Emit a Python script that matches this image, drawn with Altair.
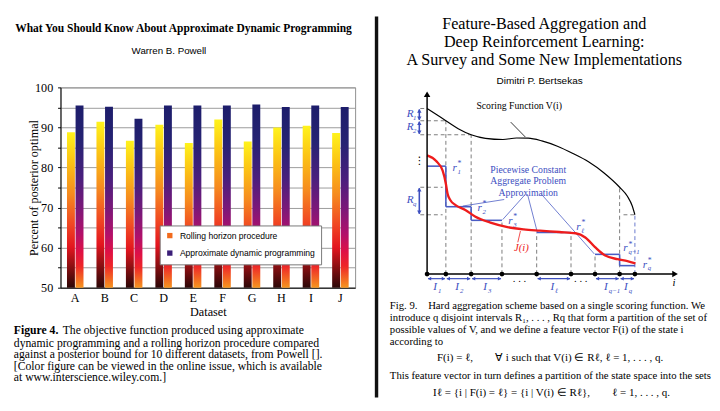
import altair as alt
import pandas as pd

# ================= Left panel: bar chart values =================
datasets = ["A", "B", "C", "D", "E", "F", "G", "H", "I", "J"]
rolling_horizon = [88.8, 91.4, 86.7, 90.7, 86.1, 92.0, 86.5, 90.0, 90.4, 88.6]
approx_dp = [95.5, 95.2, 92.2, 95.5, 95.5, 95.5, 95.7, 95.1, 95.5, 95.1]
series_names = ["Rolling horizon procedure", "Approximate dynamic programming"]
y_tick_values = [50, 55, 60, 65, 70, 75, 80, 85, 90, 95, 100]

left_title = "What You Should Know About Approximate Dynamic Programming"
left_author = "Warren B. Powell"
left_caption_head = "Figure 4."
left_caption_first = "The objective function produced using approximate"
left_caption_rest = [
    "dynamic programming and a rolling horizon procedure compared",
    "against a posterior bound for 10 different datasets, from Powell [].",
    "[Color figure can be viewed in the online issue, which is available",
    "at www.interscience.wiley.com.]",
]

# ================= Right panel: text =================
right_title = [
    "Feature-Based Aggregation and",
    "Deep Reinforcement Learning:",
    "A Survey and Some New Implementations",
]
right_author = "Dimitri P. Bertsekas"
right_caption = [
    "Fig. 9.\u2002\u2002Hard aggregation scheme based on a single scoring function. We",
    "introduce q disjoint intervals R\u2081, . . . , Rq that form a partition of the set of",
    "possible values of V, and we define a feature vector F(i) of the state i",
    "according to",
]
formula_1 = "F(i) = \u2113,\u2003\u2003\u2200 i such that V(i) \u2208 R\u2113,  \u2113 = 1, . . . , q."
right_caption_2 = "This feature vector in turn defines a partition of the state space into the sets"
formula_2 = "I\u2113 = {i | F(i) = \u2113} = {i | V(i) \u2208 R\u2113},\u2003\u2003\u2113 = 1, . . . , q."

# ================= Right panel: diagram values =================
v_i = [0, 10, 19.3, 32, 45.3, 60, 78, 92, 104, 118, 134, 150, 166, 182, 198, 206, 211, 213.7]
v_val = [170.3, 163.8, 157.7, 149.5, 143.3, 139.6, 138.4, 140.0, 139.8, 137.0, 131.5,
         124.0, 115.5, 104.0, 89.3, 80.0, 70.0, 61.0]
j_i = [0, 9.3, 16, 19.3, 21, 24, 29.3, 39.3, 49.3, 66, 82.7, 99.3, 116, 136, 152.7,
       162.7, 172.7, 182.7, 196, 206, 214.3]
j_val = [122, 116.3, 106.3, 93, 83, 76, 71, 66, 59.3, 52.7, 48.3, 46, 44.7, 43.3, 42,
         37.7, 27.7, 19.3, 15.3, 13.3, 11]

state_marks = [0, 19.3, 45.3, 77, 112.7, 148, 172.7, 198, 213.7]
interval_start = [0, 19.3, 45.3, 112.7, 172.7, 198]
interval_end = [19.3, 45.3, 77, 148, 198, 213.7]
interval_sub = ["1", "2", "3", "\u2113", "q\u22121", "q"]
r_level = [111, 69.3, 55.3, 42.7, 20.3, 8.7]
r_label_i = [28.3, 54, 85.7, 155.7, 204, 224]
r_label_v = [109, 68, 54.7, 48, 26.3, 9.7]
R_sub = ["1", "2", "q"]
R_top = [170.3, 157.7, 89.3]
R_bottom = [157.7, 143.3, 61]
R_label_v = [164.7, 151.3, 75.7]
R_axis_i = -8
interval_arrow_v = -4.7
I_label_v = -13.7

guide_x1 = [19.3, 45.3, 77, 112.7, 148, 172.7, 198, -7, -7, -7, -7, -7, 202]
guide_y1 = [0, 0, 0, 0, 0, 0, 0, 170.3, 157.7, 143.3, 89.3, 61, 61]
guide_x2 = [19.3, 45.3, 77, 112.7, 148, 172.7, 198, 0, 19.3, 45.3, 16, 16, 213.7]
guide_y2 = [157.7, 143.3, 55.3, 42.7, 42.7, 20.3, 89.3, 170.3, 157.7, 143.3, 89.3, 61, 61]
blue_guide = ([213.7], [0], [213.7], [61])

leader_x1 = [79.3, 101, 103.3, 117.7]
leader_y1 = [76.7, 82, 82, 82]
leader_x2 = [36.7, 77.7, 113.3, 172]
leader_y2 = [70, 56, 43.3, 20.7]
v_leader = ([86], [156.3], [101], [141])
j_leader = ([93.3], [32.7], [96], [44.3])

axis_x_end = 255
axis_y_end = 185

pw_lines = ["Piecewise Constant", "Aggregate Problem", "Approximation"]
pw_i = 104
pw_v = [107, 95.7, 83.7]
v_label = "Scoring Function V(i)"
v_label_pos = (50.7, 173)
j_label = "J(i)"
j_label_pos = (97, 26.3)
i_label_pos = (254, -9)
ellipsis_i = [95, 158]

# ================= styles =================
SERIF = "Liberation Serif"
SANS = "Liberation Sans"
BLUE = "#3d4fbf"
RED = "#ee1c1c"

one = pd.DataFrame({"k": [0]})

# ----------------------------------------------------------------
# Left panel
# ----------------------------------------------------------------
LX, LY = 61, 81  # page position of left plot origin

bars_df = pd.DataFrame({
    "Dataset": datasets * 2,
    "Series": [series_names[0]] * len(datasets) + [series_names[1]] * len(datasets),
    "Value": rolling_horizon + approx_dp,
})

roll_grad = alt.LinearGradient(
    gradient="linear", x1=0, x2=0, y1=0, y2=1,
    stops=[alt.GradientStop(offset=o, color=c) for o, c in [
        (0, "#fff31c"), (0.18, "#fcc514"), (0.4, "#f68a1f"), (0.6, "#f04423"),
        (0.74, "#e3151f"), (0.86, "#8e0f12"), (1, "#2b0707")]])
adp_grad = alt.LinearGradient(
    gradient="linear", x1=0, x2=0, y1=0, y2=1,
    stops=[alt.GradientStop(offset=o, color=c) for o, c in [
        (0, "#1d1d6b"), (0.2, "#262373"), (0.4, "#4a1f7d"), (0.56, "#7a1879"),
        (0.7, "#b0106b"), (0.8, "#de1046"), (0.88, "#ee2528"), (1, "#f6951f")]])

x_enc = alt.X("Dataset:N", sort=datasets,
              scale=alt.Scale(paddingInner=0.44, paddingOuter=0.22),
              axis=alt.Axis(title="Dataset", labelAngle=0, ticks=False, tickSize=0,
                            labelPadding=4, labelFontSize=12.5, titleFontSize=12.5,
                            titlePadding=2, domainColor="black", labelColor="black"))
xoff_enc = alt.XOffset("Series:N", sort=series_names,
                       scale=alt.Scale(domain=series_names, paddingInner=0.08))
y_enc = alt.Y("Value:Q", scale=alt.Scale(domain=[50, 100], nice=False, zero=False),
              axis=alt.Axis(values=y_tick_values,
                            labelExpr="datum.value % 10 === 0 ? datum.label : ''",
                            title="Percent of posterior optimal", grid=True,
                            gridColor="#9a9a9a", gridWidth=1, domainColor="black",
                            tickColor="black", tickSize=3, labelPadding=5,
                            labelFontSize=12.5, titleFontSize=12.5, titleX=-28,
                            titleY=103, titleAngle=270, titleAlign="center",
                            titleBaseline="middle"))

bars_roll = alt.Chart(bars_df).transform_filter(
    alt.datum.Series == series_names[0]
).mark_bar(fill=roll_grad).encode(x=x_enc, xOffset=xoff_enc, y=y_enc, y2=alt.datum(50))
bars_adp = alt.Chart(bars_df).transform_filter(
    alt.datum.Series == series_names[1]
).mark_bar(fill=adp_grad).encode(x=x_enc, xOffset=xoff_enc, y=y_enc, y2=alt.datum(50))

legend_helper = alt.Chart(bars_df).mark_square(opacity=0, size=30).encode(
    color=alt.Color("Series:N", sort=series_names,
                    scale=alt.Scale(domain=series_names, range=["#f26b1d", "#3b1e78"]),
                    legend=alt.Legend(title=None, orient="none", legendX=102, legendY=142,
                                      direction="vertical", fillColor="white",
                                      strokeColor="#777777", padding=6,
                                      labelFont=SANS, labelFontSize=8.8,
                                      labelColor="black", symbolType="square",
                                      symbolSize=30, symbolOpacity=1,
                                      symbolStrokeWidth=0, rowPadding=8,
                                      labelOffset=6)))


def ltext(text, px, py, **mark):
    return alt.Chart(one).mark_text(text=text, **mark).encode(
        x=alt.value(px - LX), y=alt.value(py - LY))


left_spacer = alt.Chart(one).mark_rule(color="white", strokeWidth=1).encode(
    x=alt.value(8.5 - LX), y=alt.value(8 - LY), y2=alt.value(9 - LY))

CAP = 12
left = alt.layer(
    bars_roll, bars_adp, legend_helper, left_spacer,
    ltext(left_title, 187.5, 24, font=SERIF, fontSize=11.8, fontWeight="bold",
          align="center", baseline="alphabetic", color="black"),
    ltext(left_author, 172.5, 46.5, font=SANS, fontSize=10, align="center",
          baseline="alphabetic", color="black"),
    ltext(left_caption_head, 13, 334.3, font=SERIF, fontSize=CAP, fontWeight="bold",
          align="left", baseline="alphabetic", color="black"),
    ltext(left_caption_first, 63.3, 334.3, font=SERIF, fontSize=CAP, align="left",
          baseline="alphabetic", color="black"),
    ltext(left_caption_rest, 13, 348.2 - 0.79 * CAP, font=SERIF, fontSize=CAP,
          align="left", baseline="top", lineHeight=11.8, color="black"),
).properties(width=303, height=206,
             view=alt.ViewBackground(stroke="#8c8c8c", strokeWidth=1))

# ----------------------------------------------------------------
# Right panel (diagram)
# ----------------------------------------------------------------
RX, RY = 431, 81
XS = alt.Scale(domain=[0, 259], nice=False, zero=False)
YS = alt.Scale(domain=[-14, 192], nice=False, zero=False)


def X(f="x"):
    return alt.X(f + ":Q", scale=XS, axis=None)


def Y(f="y"):
    return alt.Y(f + ":Q", scale=YS, axis=None)


def seg_df(x1, y1, x2, y2):
    return pd.DataFrame({"x": x1, "y": y1, "x2": x2, "y2": y2})


def segs(df, **mark):
    return alt.Chart(df).mark_rule(**mark).encode(x=X(), y=Y(), x2="x2:Q", y2="y2:Q")


def curve(xs, ys, **mark):
    df = pd.DataFrame({"x": xs, "y": ys, "k": range(len(xs))})
    return alt.Chart(df).mark_line(**mark).encode(x=X(), y=Y(), order="k:Q")


def pts(xs, ys, **mark):
    df = pd.DataFrame({"x": xs, "y": ys})
    return alt.Chart(df).mark_point(**mark).encode(x=X(), y=Y())


def dtext(texts, xs, ys, **mark):
    df = pd.DataFrame({"t": texts, "x": xs, "y": ys})
    return alt.Chart(df).mark_text(**mark).encode(x=X(), y=Y(), text="t:N")


def rtext(text, px, py, **mark):
    return alt.Chart(one).mark_text(text=text, **mark).encode(
        x=alt.value(px - RX), y=alt.value(py - RY))


# step function segments (derived from the interval / level values)
step_rows = [(s, r, e, r) for s, e, r in zip(interval_start, interval_end, r_level)]
for k in range(len(interval_start) - 1):
    if interval_end[k] == interval_start[k + 1]:
        step_rows.append((interval_end[k], r_level[k], interval_end[k], r_level[k + 1]))
step_df = pd.DataFrame(step_rows, columns=["x", "y", "x2", "y2"])

iv_df = seg_df([s + 1 for s in interval_start], [interval_arrow_v] * 6,
               [e - 1 for e in interval_end], [interval_arrow_v] * 6)
R_df = seg_df([R_axis_i] * 3, [t - 1 for t in R_top], [R_axis_i] * 3, [b + 1 for b in R_bottom])

lab_df = pd.DataFrame({
    "x": r_label_i + [(s + e) / 2 - 1.5 for s, e in zip(interval_start, interval_end)]
         + [-17.4] * 3,
    "y": r_label_v + [I_label_v] * 6 + R_label_v,
    "main": ["r"] * 6 + ["I"] * 6 + ["R"] * 3,
    "sub": interval_sub + interval_sub + R_sub,
    "sup": ["*"] * 6 + [""] * 9,
})

lab_main = alt.Chart(lab_df).mark_text(font=SERIF, fontStyle="italic", fontSize=11.5,
                                       color=BLUE, align="center", baseline="middle").encode(
    x=X(), y=Y(), text="main:N")
lab_sub = alt.Chart(lab_df).mark_text(font=SERIF, fontStyle="italic", fontSize=7,
                                      color=BLUE, align="left", baseline="middle",
                                      dx=3, dy=4).encode(x=X(), y=Y(), text="sub:N")
lab_sup = alt.Chart(lab_df).transform_filter(alt.datum.sup != "").mark_text(
    font=SERIF, fontSize=8, color=BLUE, align="left", baseline="middle", dx=3,
    dy=-4).encode(x=X(), y=Y(), text="sup:N")

divider = alt.Chart(one).mark_rule(color="#111111", strokeWidth=3.5).encode(
    x=alt.value(379 - RX), y=alt.value(8 - RY), y2=alt.value(400 - RY))

right = alt.layer(
    segs(seg_df(guide_x1, guide_y1, guide_x2, guide_y2), color="#7a7a7a",
         strokeWidth=1, strokeDash=[4, 3]),
    segs(seg_df(*blue_guide), color="#6677cc", strokeWidth=1, strokeDash=[4, 3]),
    curve(v_i, v_val, color="black", strokeWidth=1.2, interpolate="monotone"),
    segs(step_df, color="#4a5cc4", strokeWidth=1.6),
    segs(seg_df(leader_x1, leader_y1, leader_x2, leader_y2), color="#4a5cc4",
         strokeWidth=0.8),
    segs(seg_df(*v_leader), color="black", strokeWidth=0.8),
    segs(seg_df(*j_leader), color=RED, strokeWidth=0.8),
    curve(j_i, j_val, color=RED, strokeWidth=2.4, interpolate="monotone"),
    segs(seg_df([0, 0], [0, 0], [axis_x_end, 0], [0, axis_y_end]), color="black",
         strokeWidth=1.5),
    pts([axis_x_end], [0], shape="triangle-right", size=45, filled=True,
        color="black", opacity=1),
    pts([0], [axis_y_end], shape="triangle-up", size=45, filled=True,
        color="black", opacity=1),
    alt.Chart(pd.DataFrame({"x": state_marks, "y": [0] * len(state_marks)})).mark_circle(
        size=24, color="black", opacity=1).encode(x=X(), y=Y()),
    segs(iv_df, color=BLUE, strokeWidth=1.2),
    pts([s + 2.5 for s in interval_start], [interval_arrow_v] * 6, shape="triangle-left",
        size=16, filled=True, color=BLUE, opacity=1),
    pts([e - 2.5 for e in interval_end], [interval_arrow_v] * 6, shape="triangle-right",
        size=16, filled=True, color=BLUE, opacity=1),
    segs(R_df, color=BLUE, strokeWidth=1.6),
    pts([R_axis_i] * 3, [t - 2.5 for t in R_top], shape="triangle-up", size=20,
        filled=True, color=BLUE, opacity=1),
    pts([R_axis_i] * 3, [b + 2.5 for b in R_bottom], shape="triangle-down", size=20,
        filled=True, color=BLUE, opacity=1),
    lab_main, lab_sub, lab_sup,
    dtext(pw_lines, [pw_i] * 3, pw_v, font=SERIF, fontSize=10, color=BLUE,
          align="center", baseline="middle"),
    dtext([v_label], [v_label_pos[0]], [v_label_pos[1]], font=SERIF, fontSize=10,
          color="black", align="left", baseline="middle"),
    dtext([j_label], [j_label_pos[0]], [j_label_pos[1]], font=SERIF, fontSize=11,
          fontStyle="italic", color=RED, align="center", baseline="middle"),
    dtext(["i"], [i_label_pos[0]], [i_label_pos[1]], font=SERIF, fontSize=11,
          fontStyle="italic", color="black", align="center", baseline="middle"),
    dtext([". . ."] * 2, ellipsis_i, [interval_arrow_v] * 2, font=SERIF, fontSize=11,
          color="black", align="center", baseline="middle"),
    dtext(["\u22ee"], [R_axis_i], [116.3], font="DejaVu Sans", fontSize=11,
          color="black", align="center", baseline="middle"),
    divider,
    rtext(right_title, 551.5, 8, font=SERIF, fontSize=16.6, align="center",
          baseline="top", lineHeight=18.7, color="black"),
    rtext(right_author, 546.7, 77.4, font=SANS, fontSize=10.25, align="center",
          baseline="alphabetic", color="black"),
    rtext(right_caption, 392.7, 308.6 - 0.79 * 11, font=SERIF, fontSize=11,
          align="left", baseline="top", lineHeight=12.3, color="black"),
    rtext(formula_1, 557.5, 362, font=SERIF, fontSize=11.3, align="center",
          baseline="alphabetic", color="black"),
    rtext(right_caption_2, 392.7, 380.6, font=SERIF, fontSize=11, align="left",
          baseline="alphabetic", color="black"),
    rtext(formula_2, 559, 398.6, font=SERIF, fontSize=11.3, align="center",
          baseline="alphabetic", color="black"),
).properties(width=259, height=206, view=alt.ViewBackground(stroke="transparent"))

chart = alt.hconcat(left, right, spacing=74, bounds="flush", padding=0).configure_axis(
    labelFont=SERIF, titleFont=SERIF, titleFontWeight="normal", titleColor="black"
).configure_view(stroke="transparent")

chart.save("out.html", embed_options={"renderer": "svg", "actions": False})
